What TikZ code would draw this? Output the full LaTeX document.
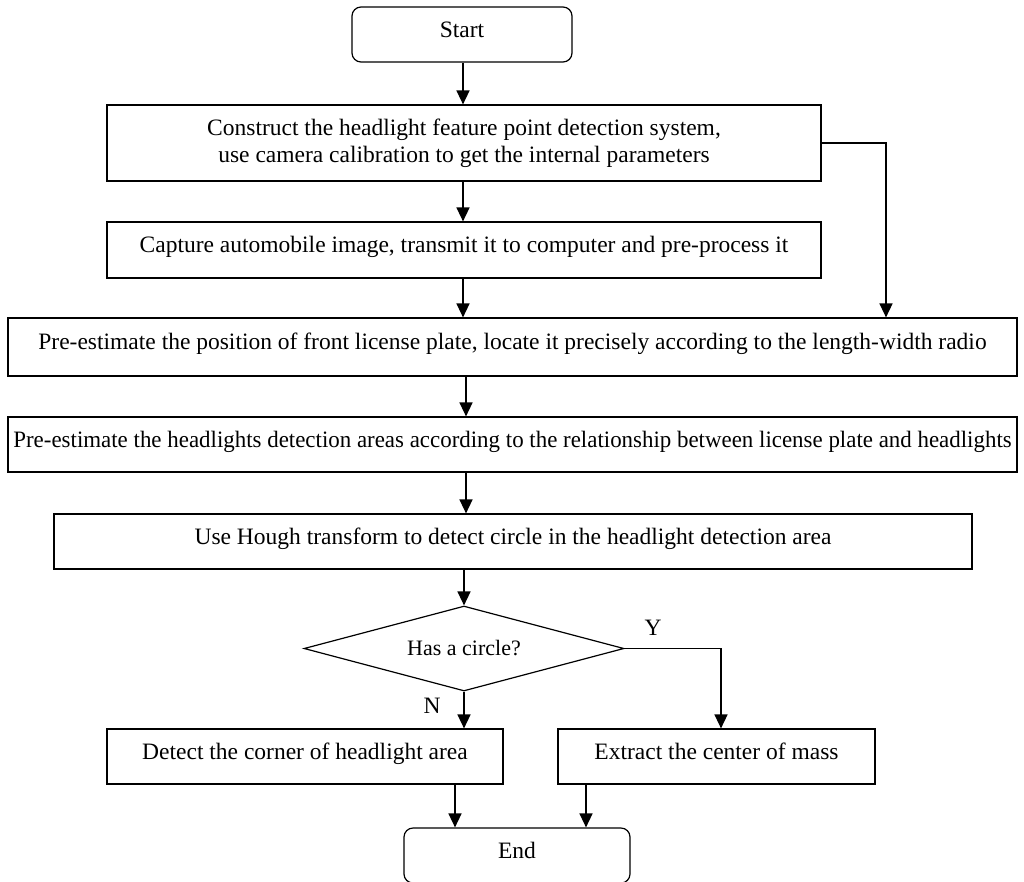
\documentclass[tikz,border=0pt]{standalone}
\usepackage{fontspec}
\setmainfont{Liberation Serif}
\usetikzlibrary{shapes.geometric,arrows.meta}
\begin{document}
\begin{tikzpicture}[x=1pt,y=-1pt,
  txt/.style={font=\fontsize{23.5}{27}\selectfont},
  box/.style={draw, line width=1.2pt, rectangle, inner sep=0pt, align=center, txt},
  one/.style={text height=16pt, text depth=10.5pt},
  term/.style={box, one, rounded corners=9pt},
  arr/.style={-{Triangle[length=14pt,width=13pt]}, line width=1.5pt}]
\clip (0,0) rectangle (1024,881);
\node[term, minimum width=220pt, minimum height=55pt] (start) at (462,34.5) {Start};
\node[box, minimum width=714pt, minimum height=76pt] (b1) at (464,143) {Construct the headlight feature point detection system,\\use camera calibration to get the internal parameters};
\node[box, one, minimum width=714pt, minimum height=56pt] (b2) at (464,250) {Capture automobile image, transmit it to computer and pre-process it};
\node[box, one, minimum width=1009pt, minimum height=58pt] (b3) at (512.5,347) {Pre-estimate the position of front license plate, locate it precisely according to the length-width radio};
\node[box, one, minimum width=1009pt, minimum height=55pt] (b4) at (512.5,444.5) {\scalebox{0.975}[1]{Pre-estimate the headlights detection areas according to the relationship between license plate and headlights}};
\node[box, one, minimum width=918pt, minimum height=55pt] (b5) at (513,541.5) {Use Hough transform to detect circle in the headlight detection area};
\node[draw, line width=1.2pt, diamond, inner sep=0pt, aspect=3.76, minimum width=320pt, minimum height=85pt, font=\fontsize{22}{26}\selectfont] (dia) at (464,648.5) {Has a circle?};
\node[box, one, minimum width=396pt, minimum height=55pt] (b6) at (305,756.5) {Detect the corner of headlight area};
\node[box, one, minimum width=317pt, minimum height=55pt] (b7) at (716.5,756.5) {Extract the center of mass};
\node[term, minimum width=226pt, minimum height=55pt] (end) at (517,855.5) {End};
\node[txt] (ylab) at (653,628) {Y};
\node[txt] (nlab) at (432,706) {N};
\draw[arr] (463,0 |- start.south) -- (463,0 |- b1.north);
\draw[arr] (463,0 |- b1.south) -- (463,0 |- b2.north);
\draw[arr] (463,0 |- b2.south) -- (463,0 |- b3.north);
\draw[arr] (466,0 |- b3.south) -- (466,0 |- b4.north);
\draw[arr] (466,0 |- b4.south) -- (466,0 |- b5.north);
\draw[arr] (dia.north |- b5.south) -- (dia.north);
\draw[arr] (b1.east) -| (886,0 |- b3.north);
\draw[arr] (dia.east) -| (721,0 |- b7.north);
\draw[arr] (dia.south) -- (dia.south |- b6.north);
\draw[arr] (455,0 |- b6.south) -- (455,0 |- end.north);
\draw[arr] (586,0 |- b7.south) -- (586,0 |- end.north);
\end{tikzpicture}
\end{document}
